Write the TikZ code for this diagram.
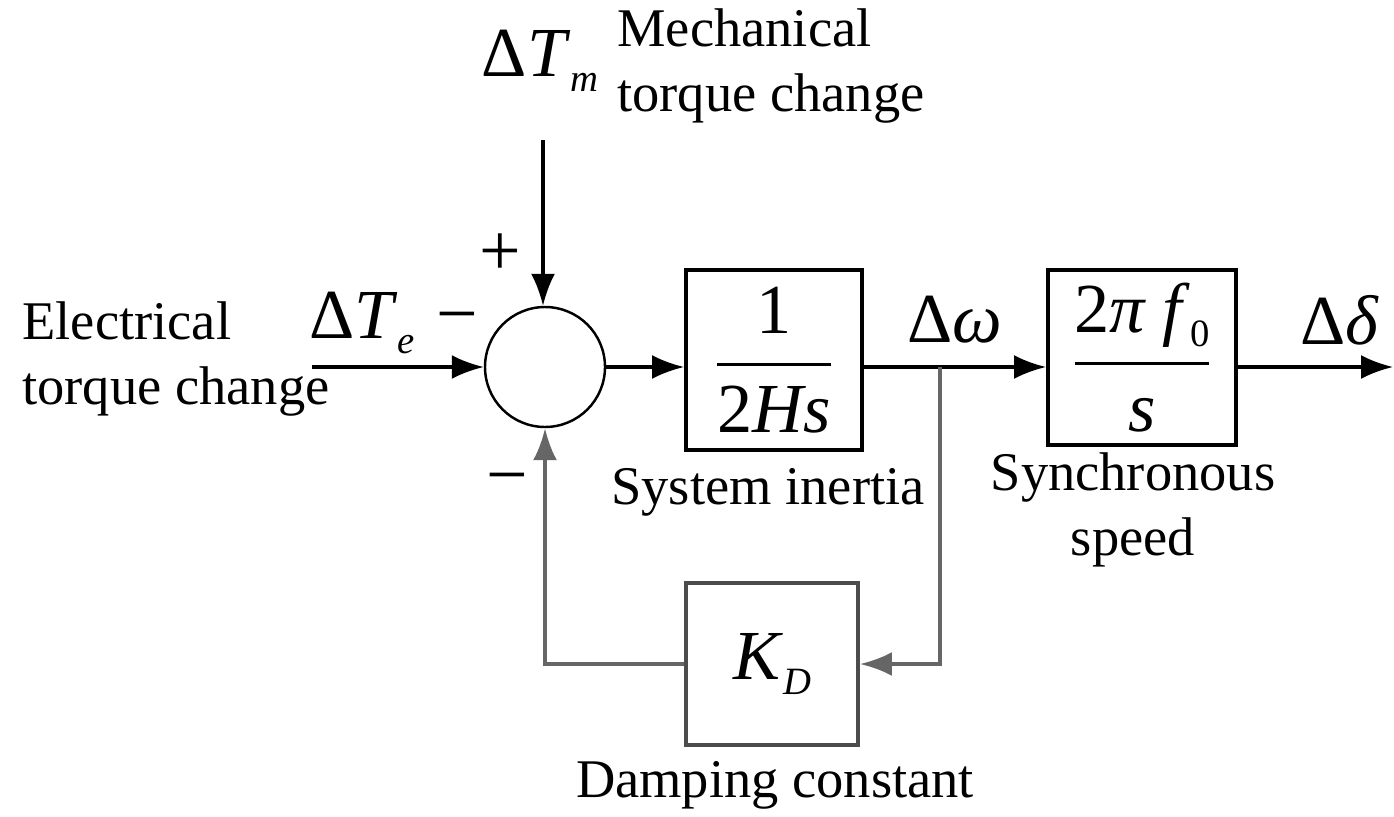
\documentclass[tikz,border=0pt]{standalone}
\usepackage{amsmath}
\usepackage{fontspec}
\setmainfont{Liberation Serif}
\usetikzlibrary{arrows.meta}

\newcommand{\vi}[1]{\textit{#1}}
\newcommand{\sub}[1]{\raisebox{-0.45ex}{\fontsize{11}{12}\selectfont#1}}

\begin{document}
\begin{tikzpicture}[
    font=\fontsize{15.5}{18.5}\selectfont,
    block/.style={draw, line width=1.1pt, inner sep=0pt},
    sumnode/.style={draw, circle, line width=0.7pt, minimum size=1.2cm, inner sep=0pt},
    sig/.style={line width=0.9pt, -{Latex[length=3.2mm, width=2.4mm]}},
    fb/.style={draw=black!60, line width=1.1pt},
    big/.style={font=\fontsize{20}{24}\selectfont},
    sign/.style={font=\fontsize{21}{24}\selectfont}
]
    \useasboundingbox (0,0) rectangle (13.94,8.16);

    % blocks
    \node[sumnode] (sum) at (5.45,4.49) {};
    \node[block, minimum width=1.76cm, minimum height=1.80cm, big] (inertia) at (7.74,4.56)
        {$\displaystyle\frac{\text{1}}{\text{2\vi{Hs}}}$};
    \node[block, minimum width=1.88cm, minimum height=1.75cm, big] (speed) at (11.42,4.585)
        {$\displaystyle\frac{\text{2\vi{π f}\sub{0}}}{\text{\vi{s}}}$};
    \node[block, draw=black!70, minimum width=1.72cm, minimum height=1.62cm, big] (damp) at (7.72,1.52)
        {\vi{K}\sub{\vi{D}}};

    % free ends
    \coordinate (tin) at (5.43,6.76);
    \coordinate (lin) at (3.12,4.49);
    \coordinate (br) at (9.40,4.49);
    \coordinate (out) at (13.93,4.49);

    % signal lines
    \draw[sig] (tin) -- (tin |- sum.north);
    \draw[sig] (lin) -- (sum.west);
    \draw[sig] (sum.east) -- (sum.east -| inertia.west);
    \draw[line width=0.9pt] (sum.east -| inertia.east) -- (br);
    \draw[sig] (br) -- (br -| speed.west);
    \draw[sig] (sum.east -| speed.east) -- (out);

    % feedback
    \draw[fb, -{Latex[length=3.2mm, width=2.4mm]}] (br) |- (damp.east);
    \draw[fb, -{Latex[length=3.2mm, width=2.4mm]}] (damp.west) -| (sum.south);

    % labels
    \node[big] (dtm) at (5.40,7.55) {Δ\vi{T}\sub{\vi{m}}};
    \node[anchor=west, align=left] (mech) at (6.05,7.50) {Mechanical\\torque change};
    \node[sign] (plus) at (5.00,5.61) {+};
    \node[big] (dte) at (3.62,4.93) {Δ\vi{T}\sub{\vi{e}}};
    \node[sign] (minusa) at (4.57,4.91) {−};
    \node[anchor=west, align=left] (elec) at (0.10,4.57) {Electrical\\torque change};
    \node[big] (dw) at (9.55,4.96) {Δ\vi{ω}};
    \node[big] (dd) at (13.40,4.96) {Δ\vi{δ}};
    \node (inlab) at (7.68,3.24) {System inertia};
    \node[align=center] (splab) at (11.33,3.06) {Synchronous\\speed};
    \node[sign] (minusb) at (5.07,3.30) {−};
    \node (dlab) at (7.75,0.31) {Damping constant};
\end{tikzpicture}
\end{document}
